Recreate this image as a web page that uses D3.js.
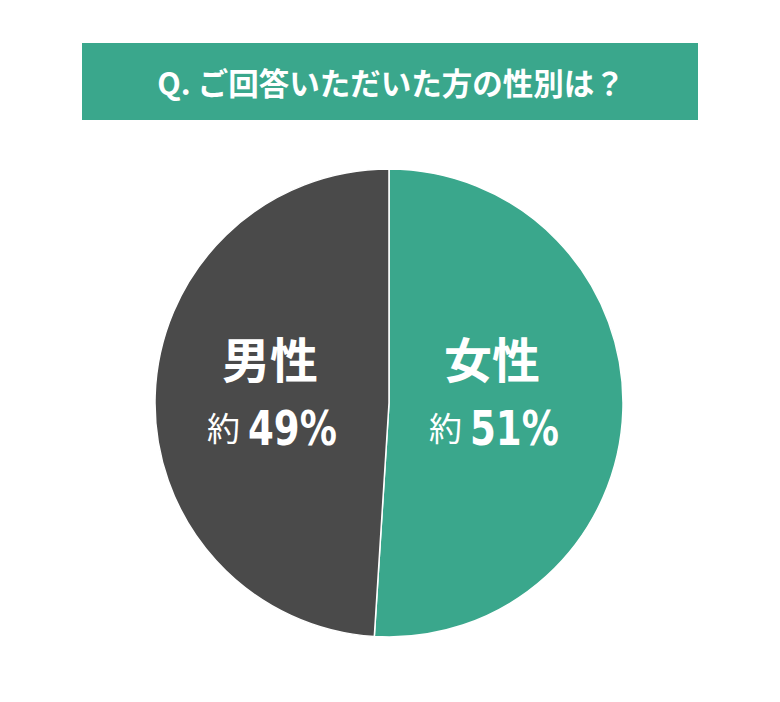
<!DOCTYPE html>
<html>
<head>
<meta charset="utf-8">
<script src="https://cdn.jsdelivr.net/npm/d3@7"></script>
<style>
  body { margin: 0; background: #fff; }
  svg { display: block; }
</style>
</head>
<body>
<div id="chart"></div>
<script>
const title = "Q. ご回答いただいた方の性別は？";
const categories = ["女性", "男性"];
const values = [51, 49];
const colors = ["#3aa78c", "#4a4a4a"];

const width = 780, height = 702;
const cx = 389, cy = 403, radius = 234;

var svg = d3.select("#chart").append("svg")
  .attr("width", width)
  .attr("height", height);

// title banner
svg.append("rect")
  .attr("x", 82).attr("y", 43)
  .attr("width", 616).attr("height", 77)
  .attr("fill", "#3aa78c");

svg.append("text")
  .attr("x", 391).attr("y", 82)
  .attr("text-anchor", "middle")
  .attr("dominant-baseline", "central")
  .attr("fill", "#fff")
  .style("font-family", "'Noto Sans CJK JP', sans-serif")
  .style("font-weight", 700)
  .style("font-size", "30.5px")
  .text(title);

var data = categories.map(function (c, i) {
  return { name: c, value: values[i], color: colors[i] };
});

var pie = d3.pie().sort(null).value(function (d) { return d.value; });
var arc = d3.arc().innerRadius(0).outerRadius(radius);

var g = svg.append("g").attr("transform", `translate(${cx},${cy})`);

g.selectAll("path")
  .data(pie(data))
  .enter()
  .append("path")
  .attr("d", arc)
  .attr("fill", function (d) { return d.data.color; })
  .attr("stroke", "#fff")
  .attr("stroke-width", 1.5);

// labels
var labelX = [103, -119];

var labels = g.selectAll(".label")
  .data(pie(data))
  .enter()
  .append("g")
  .attr("class", "label")
  .attr("transform", function (d, i) {
    return `translate(${labelX[i]},0)`;
  });

labels.append("text")
  .attr("text-anchor", "middle")
  .attr("y", -25)
  .attr("fill", "#fff")
  .style("font-family", "'Noto Sans CJK JP', sans-serif")
  .style("font-weight", 700)
  .style("font-size", "48px")
  .text(function (d) { return d.data.name; });

labels.append("text")
  .attr("text-anchor", "end")
  .attr("x", -30)
  .attr("y", 38)
  .attr("fill", "#fff")
  .style("font-family", "'Noto Sans CJK JP', sans-serif")
  .style("font-weight", 400)
  .style("font-size", "33px")
  .text("約");

labels.append("text")
  .attr("transform", "translate(-22,42) scale(0.86,1)")
  .attr("fill", "#fff")
  .style("font-family", "'DejaVu Sans Condensed', 'DejaVu Sans', sans-serif")
  .style("font-weight", 700)
  .style("font-size", "48px")
  .text(function (d) { return d.data.value + "%"; });
</script>
</body>
</html>
